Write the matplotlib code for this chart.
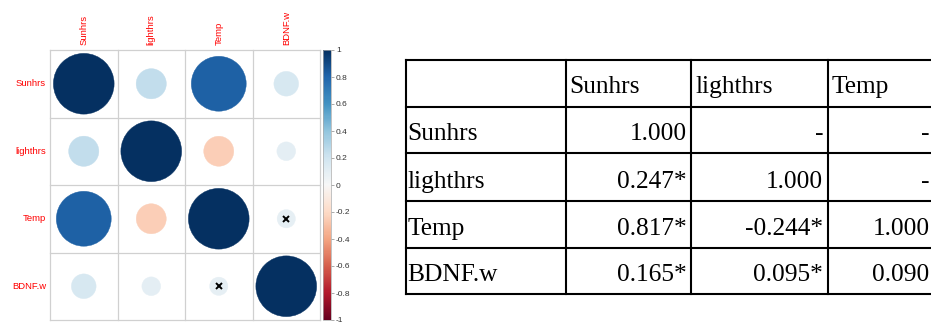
import numpy as np
import matplotlib
matplotlib.use("Agg")
import matplotlib.pyplot as plt
from matplotlib.patches import Circle
from matplotlib.colors import Normalize
from matplotlib.cm import ScalarMappable
from matplotlib.transforms import Bbox

# correlation data
variables = ["Sunhrs", "lighthrs", "Temp", "BDNF.w"]
table_cols = ["Sunhrs", "lighthrs", "Temp"]
r_sunhrs = [1.000, 0.247, 0.817, 0.165]
r_lighthrs = [0.247, 1.000, -0.244, 0.095]
r_temp = [0.817, -0.244, 1.000, 0.090]
r_bdnf = [0.165, 0.095, 0.090, 1.000]
sig_sunhrs = [True, True, True, True]
sig_lighthrs = [True, True, True, True]
sig_temp = [True, True, True, False]
sig_bdnf = [True, True, False, True]

corr = np.array([r_sunhrs, r_lighthrs, r_temp, r_bdnf])
sig = np.array([sig_sunhrs, sig_lighthrs, sig_temp, sig_bdnf])

W, H = 931, 322
fig = plt.figure(figsize=(W / 100, H / 100), dpi=100)


def frac(x0, y0, x1, y1):
    # pixel box (top-left origin) -> figure fraction rect
    return [x0 / W, 1 - y1 / H, (x1 - x0) / W, (y1 - y0) / H]


cmap = plt.get_cmap("RdBu")
norm = Normalize(-1, 1)
n = len(variables)

# ---------------- table on the right ----------------
axt = fig.add_axes([0, 0, 1, 1])
axt.set_xlim(0, W)
axt.set_ylim(H, 0)
axt.axis("off")

col_x = [405.7, 565.7, 691.0, 827.7, 934.0]
row_y = [60.0, 106.7, 153.3, 200.7, 248.3, 294.3]
serif = dict(family="Liberation Serif", fontsize=18.3, color="black")

for y in row_y:
    axt.plot([col_x[0], col_x[-1]], [y, y], color="black", lw=1.5, solid_capstyle="projecting")
for x in col_x:
    axt.plot([x, x], [row_y[0], row_y[-1]], color="black", lw=1.5, solid_capstyle="projecting")

for c, name in enumerate(table_cols):
    axt.text(col_x[c + 1] + 4, row_y[1] - 14, name, ha="left", va="baseline", **serif)

for r, name in enumerate(variables):
    base = row_y[r + 2] - 13
    axt.text(col_x[0] + 2, base, name, ha="left", va="baseline", **serif)
    for c in range(len(table_cols)):
        if c > r:
            s = "-"
        elif c == r:
            s = f"{corr[r, c]:.3f}"
        else:
            s = f"{corr[r, c]:.3f}" + ("*" if sig[r, c] else "")
        axt.text(col_x[c + 2] - 4.5, base, s, ha="right", va="baseline", **serif)

# ---------------- correlation circles ----------------
ax = fig.add_axes(frac(50, 50, 320, 320))
ax.set_xlim(0.5, n + 0.5)
ax.set_ylim(n + 0.5, 0.5)
ax.axis("off")

for k in range(n + 1):
    ax.plot([k + 0.5, k + 0.5], [0.5, n + 0.5], color="#d0d0d0", lw=0.9, clip_on=False, zorder=1)
    ax.plot([0.5, n + 0.5], [k + 0.5, k + 0.5], color="#d0d0d0", lw=0.9, clip_on=False, zorder=1)

for i in range(n):
    for j in range(n):
        v = corr[i, j]
        col = cmap(norm(v))
        ax.add_patch(Circle((j + 1, i + 1), 0.45 * np.sqrt(abs(v)),
                            facecolor=col, edgecolor=col, lw=0.3, zorder=2))
        if not sig[i, j]:
            ax.plot(j + 1, i + 1, marker="x", color="black", ms=4.5, mew=1.4, zorder=3)

sans = dict(family="Liberation Sans", fontsize=6.8, color="red")
clip = Bbox.from_extents(0, 0, W, H - 12)
for i, name in enumerate(variables):
    ax.text(0.44, i + 1, name, ha="right", va="center", **sans)
    t = ax.text(i + 1, 0.43, name, ha="center", va="bottom", rotation=90, **sans)
    t.set_clip_box(clip)
    t.set_clip_on(True)

# ---------------- colour legend ----------------
cax = fig.add_axes(frac(323, 50, 331, 320))
ticks = np.round(np.linspace(-1, 1, 11), 1) + 0.0
cb = fig.colorbar(ScalarMappable(norm=norm, cmap=cmap), cax=cax, ticks=ticks)
cb.ax.set_yticklabels([f"{v:g}" for v in ticks])
cb.ax.tick_params(length=2, width=0.5, color="#888888", labelsize=6,
                  pad=1.5, labelcolor="#333333")
for lbl in cb.ax.get_yticklabels():
    lbl.set_family("Liberation Sans")
cb.outline.set_edgecolor("#aaaaaa")
cb.outline.set_linewidth(0.5)

fig.savefig("out.png", dpi=100)
